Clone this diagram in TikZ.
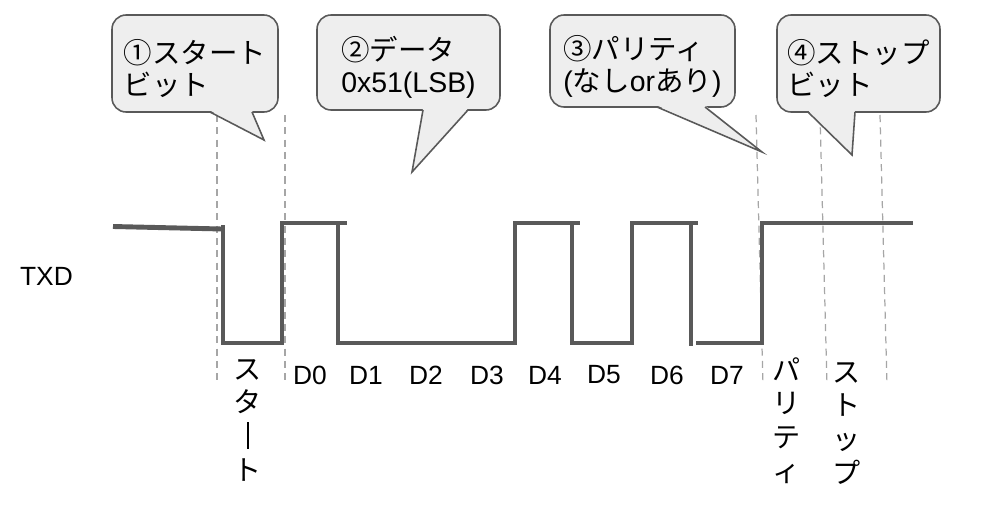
\documentclass[tikz,border=0pt]{standalone}
\usepackage{fontspec}
\setmainfont{Liberation Sans}
\newfontfamily\jp{Noto Sans CJK JP}
\definecolor{linea}{HTML}{595959}
\definecolor{guida}{HTML}{A6A6A6}
\definecolor{fondo}{HTML}{EEEEEE}
% spinge il testo dei fumetti un po' in basso
\newcommand{\alza}{\rule{0pt}{19.4pt}}
\tikzset{
    segnale/.style={line width=2.8pt, draw=linea},
    tratteggio/.style={draw=guida, line width=0.7pt, dash pattern=on 4pt off 3pt},
    fumetto/.style={draw=linea, fill=fondo, line width=0.9pt, rounded corners=8pt,
        align=left, inner sep=0pt, font=\fontsize{16.2}{18.2}\selectfont},
    coda/.style={draw=linea, line width=0.9pt, line join=miter},
    verticale/.style={align=center, inner sep=0pt, font=\fontsize{16}{19.2}\selectfont\jp}
}
\begin{document}
\begin{tikzpicture}[x=0.02cm, y=-0.02cm, font=\fontsize{15}{18}\selectfont]

        % Area del disegno (coordinate in pixel)
        \useasboundingbox (0,0) rectangle (983,517);

        % Linee guida tratteggiate
        \draw[tratteggio] (217,115) -- (217,385);
        \draw[tratteggio] (285,115) -- (285,385);
        \draw[tratteggio] (756,115) -- (763,385);
        \draw[tratteggio] (820,115) -- (827,385);
        \draw[tratteggio] (880,115) -- (887,385);

        % Forma d'onda del segnale TXD
        \draw[segnale] (113,226.5) -- (222,229);
        \draw[segnale] (223,225) -- (223,343) -- (282,343) -- (282,223) -- (347,223);
        \draw[segnale] (338,223) -- (338,343) -- (515,343) -- (515,223) -- (580,223);
        \draw[segnale] (572,223) -- (572,343) -- (632,343) -- (632,223) -- (698,223);
        \draw[segnale] (691,223) -- (691,346);
        \draw[segnale] (696,343) -- (762,343) -- (762,223) -- (913,223);

        % Nome del segnale
        \node (txd) at (46.5,276) {TXD};

        % Fumetti con le spiegazioni
        \node[fumetto, minimum width=3.32cm, minimum height=1.94cm] (start) at (195,63.5)
            {\alza{\jp ①スタート}\\{\jp ビット}};
        \fill[fondo] (210,110.5) -- (264,140) -- (252,110.5) -- cycle;
        \draw[coda] (210,112) -- (264,140) -- (252,112);

        \node[fumetto, minimum width=3.66cm, minimum height=1.9cm] (dati) at (408.5,62.5)
            {\alza{\jp ②データ}\\0x51(LSB)};
        \fill[fondo] (423,108.5) -- (412,172) -- (468,108.5) -- cycle;
        \draw[coda] (423,110) -- (412,172) -- (468,110);

        \node[fumetto, minimum width=3.7cm, minimum height=1.84cm] (parita) at (642.5,61)
            {\alza{\jp ③パリティ}\\({\jp なし}or{\jp あり})};
        \fill[fondo] (657,105.5) -- (762,152) -- (705,105.5) -- cycle;
        \draw[coda] (657,107) -- (762,152) -- (705,107);

        \node[fumetto, minimum width=3.26cm, minimum height=1.94cm] (stop) at (858.5,63.5)
            {\alza{\jp ④ストップ}\\{\jp ビット}};
        \fill[fondo] (808,110.5) -- (852,155) -- (855,110.5) -- cycle;
        \draw[coda] (808,112) -- (852,155) -- (855,112);

        % Nomi dei bit in basso
        \foreach \x/\bit in {310/D0, 366/D1, 426/D2, 487/D3, 545/D4, 604/D5, 667/D6, 727/D7}
            \node (\bit) at (\x,375) {\bit};

        % Etichette verticali (il trattino lungo e' una barra verticale)
        \node[verticale, anchor=north] (lstart) at (248,359)
            {ス\\タ\\\rule[-0.08em]{0.07em}{0.95em}\\ト};
        \node[verticale, anchor=north] (lparita) at (787,357) {パ\\リ\\テ\\ィ};
        \node[verticale, anchor=north] (lstop) at (847,362) {ス\\ト\\ッ\\プ};

    \end{tikzpicture}
\end{document}
